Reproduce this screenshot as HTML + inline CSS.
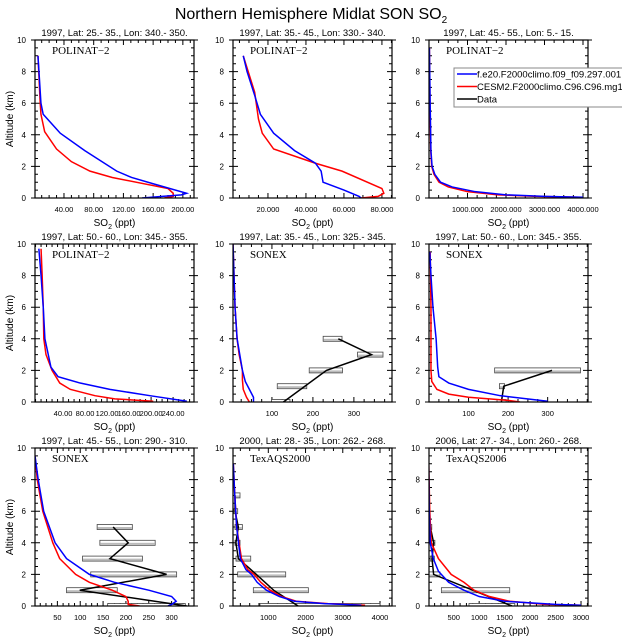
<!DOCTYPE html>
<html><head><meta charset="utf-8"><style>
body{margin:0;background:#fff;}
svg{display:block;font-family:"Liberation Sans",sans-serif;}
</style></head><body>
<svg id="fig" width="622" height="640" viewBox="0 0 622 640" xmlns="http://www.w3.org/2000/svg">
<text x="311" y="19" font-size="16" text-anchor="middle">Northern Hemisphere Midlat SON SO<tspan font-size="10" dy="4">2</tspan></text>
</svg>
<script>
// ---- data (altitude km, SO2 ppt) ----
const p1Titles=["1997, Lat: 25.- 35., Lon: 340.- 350.","1997, Lat: 35.- 45., Lon: 330.- 340.","1997, Lat: 45.- 55., Lon: 5.- 15.","1997, Lat: 50.- 60., Lon: 345.- 355.","1997, Lat: 35.- 45., Lon: 325.- 345.","1997, Lat: 50.- 60., Lon: 345.- 355.","1997, Lat: 45.- 55., Lon: 290.- 310.","2000, Lat: 28.- 35., Lon: 262.- 268.","2006, Lat: 27.- 34., Lon: 260.- 268."];
const campaigns=["POLINAT\u22122","POLINAT\u22122","POLINAT\u22122","POLINAT\u22122","SONEX","SONEX","SONEX","TexAQS2000","TexAQS2006"];
const xRanges=[[1,215],[1.6,85.3],[0,4130],[-11,278],[5,393],[0,402],[1,349],[52,4322],[15,3137]];
const xTicks=[[40,80,120,160,200],[20,40,60,80],[1000,2000,3000,4000],[40,80,120,160,200,240],[100,200,300],[100,200,300],[50,100,150,200,250,300],[1000,2000,3000,4000],[500,1000,1500,2000,2500,3000]];
const xTickLabels=[["40.00","80.00","120.00","160.00","200.00"],["20.000","40.000","60.000","80.000"],["1000.000","2000.000","3000.000","4000.000"],["40.00","80.00","120.00","160.00","200.00","240.00"],["100","200","300"],["100","200","300"],["50","100","150","200","250","300"],["1000","2000","3000","4000"],["500","1000","1500","2000","2500","3000"]];
const yTicks=[0,2,4,6,8,10];
// panel 1
const p1BlueAlt=[9,6,5.3,4.1,3,1.7,1.3,0.9,0.3,0.2,0];
const p1BlueX=[5,9,12,35,68,111,131,160,205,198,145];
const p1RedAlt=[9,6,5.3,4.2,3.1,2.3,1.7,1.3,0.6,0.3,0.1,0];
const p1RedX=[5,8,9,14,30,50,75,105,180,187,187,175];
// panel 2
const p2BlueAlt=[9,8,6.5,5.3,4.1,3,2.2,1.7,1.0,0.5,0.1,0];
const p2BlueX=[7,9,13,16,23,34,45,48,49,60,68,69];
const p2RedAlt=[9,6.7,5,4.1,3.1,2.2,1.7,0.6,0.3,0.1,0];
const p2RedX=[7,13,15,17,23,45,59,80,81,78,69];
// panel 3
const p3BlueAlt=[9.5,6,3,2,1.5,1,0.7,0.4,0.2,0.1,0.05];
const p3BlueX=[10,30,50,80,150,300,600,1200,2000,3000,4000];
const p3RedAlt=[9.5,6,3,2,1.5,1,0.7,0.4,0.2,0.1,0.05];
const p3RedX=[10,25,45,70,130,260,500,1000,1800,2800,3900];
// panel 4
const p4BlueAlt=[9.7,8,6,4,2.2,1.6,1.2,0.8,0.4,0.05];
const p4BlueX=[-4,0,4,7,18,31,71,125,198,265];
const p4RedAlt=[9.7,8,6,4,3,2,1.2,0.8,0.4,0.2,0.05];
const p4RedX=[0,2,4,5,9,20,34,53,98,134,204];
// panel 5
const p5BlueAlt=[10,6,4,2,1.3,0.8,0.3,0];
const p5BlueX=[5,10,15,28,35,45,55,55];
const p5RedAlt=[10,6,4,3,2,1.4,0.8,0.3,0];
const p5RedX=[5,10,15,20,28,28,30,38,45];
const p5ObsAlt=[4,3,2,1,0];
const p5ObsMean=[262,343,233,null,128];
const p5ObsMin=[225,309,191,113,99];
const p5ObsMax=[271,371,272,185,144];
// panel 6
const p6BlueAlt=[9.5,8,6,4,2.2,1.6,1.2,0.8,0.4,0.05];
const p6BlueX=[2,5,10,18,22,25,50,100,180,300];
const p6RedAlt=[9.5,6,4,2,1.3,0.8,0.5,0.3,0.1,0];
const p6RedX=[3,5,5,5,7,20,50,100,200,230];
const p6ObsAlt=[2,1,0];
const p6ObsMean=[311,189,183];
const p6ObsMin=[166,178,172];
const p6ObsMax=[383,191,195];
// panel 7
const p7BlueAlt=[9.5,8,6,4,3,2,1.5,1,0.6,0.3,0.1,0];
const p7BlueX=[1,8,20,45,70,120,175,250,300,310,300,292];
const p7RedAlt=[9.5,8,6,4,3,2,1.5,1,0.6,0.3,0.1,0];
const p7RedX=[1,6,18,40,55,90,120,170,200,205,205,230];
const p7ObsAlt=[5,4,3,2,1,0];
const p7ObsMean=[172,205,165,289,99,333];
const p7ObsMin=[137,143,105,123,70,160];
const p7ObsMax=[214,264,236,311,181,330];
// panel 8
const p8BlueAlt=[9,7,5,3,2.3,2,1.5,1,0.6,0.3,0.15,0.1,0.05];
const p8BlueX=[60,100,150,250,400,550,700,950,1300,1700,2500,3000,3500];
const p8RedAlt=[9,7,5,3,2.3,2,1.5,1,0.6,0.3,0.15,0.1,0.05];
const p8RedX=[60,100,150,280,450,620,800,1050,1350,1750,2600,3100,3600];
const p8ObsAlt=[7,6,5,4,3,2,1,0];
const p8ObsMean=[106,106,195,130,195,678,1143,1800];
const p8ObsMin=[106,70,106,106,133,178,598,776];
const p8ObsMax=[240,178,303,240,528,1467,2075,4000];
// panel 9
const p9BlueAlt=[9,6,4,3,2.2,1.5,1,0.6,0.3,0.1,0.05];
const p9BlueX=[10,20,40,100,200,400,700,1000,1500,2500,3000];
const p9RedAlt=[9,6,4,3,2,1.5,1,0.6,0.3,0.1,0.05];
const p9RedX=[10,30,60,200,450,700,900,1200,1600,2300,3000];
const p9ObsAlt=[5,4,3,2,1,0];
const p9ObsMean=[41,106,74,106,null,1645];
const p9ObsMin=[30,40,40,15,258,800];
const p9ObsMax=[60,130,120,230,1600,1700];

const blueSeries=[[p1BlueAlt,p1BlueX],[p2BlueAlt,p2BlueX],[p3BlueAlt,p3BlueX],[p4BlueAlt,p4BlueX],[p5BlueAlt,p5BlueX],[p6BlueAlt,p6BlueX],[p7BlueAlt,p7BlueX],[p8BlueAlt,p8BlueX],[p9BlueAlt,p9BlueX]];
const redSeries=[[p1RedAlt,p1RedX],[p2RedAlt,p2RedX],[p3RedAlt,p3RedX],[p4RedAlt,p4RedX],[p5RedAlt,p5RedX],[p6RedAlt,p6RedX],[p7RedAlt,p7RedX],[p8RedAlt,p8RedX],[p9RedAlt,p9RedX]];
const obsSeries=[null,null,null,null,[p5ObsAlt,p5ObsMean,p5ObsMin,p5ObsMax],[p6ObsAlt,p6ObsMean,p6ObsMin,p6ObsMax],[p7ObsAlt,p7ObsMean,p7ObsMin,p7ObsMax],[p8ObsAlt,p8ObsMean,p8ObsMin,p8ObsMax],[p9ObsAlt,p9ObsMean,p9ObsMin,p9ObsMax]];

const NS="http://www.w3.org/2000/svg";
const svg=document.getElementById('fig');
const lefts=[35,233,429], tops=[40,244,448], W=159, H=158;
function mk(tag,attrs,parent){const e=document.createElementNS(NS,tag);for(const k in attrs)e.setAttribute(k,attrs[k]);(parent||svg).appendChild(e);return e;}

for(let i=0;i<9;i++){
  const L=lefts[i%3], T=tops[Math.floor(i/3)];
  const [x0,x1]=xRanges[i];
  const sx=v=>L+(v-x0)/(x1-x0)*W;
  const sy=a=>T+H-a/10*H;
  const g=mk('g',{});
  
  
  const clip=mk('clipPath',{id:'c'+i},g);
  mk('rect',{x:L,y:T,width:W,height:H},clip);
  const maj=xTicks[i], step=maj.length>1?maj[1]-maj[0]:1000, mstep=step/4;
  let tk='';
  for(let v=Math.ceil(x0/mstep)*mstep; v<=x1; v+=mstep){const x=sx(v);const isM=maj.some(m=>Math.abs(m-v)<1e-6);const l=isM?5:3;tk+=`M${x},${T+H}v${-l}M${x},${T}v${l}`;}
  for(let a=0;a<=10;a+=0.5){const y=sy(a);const l=(a%2===0)?5:3;tk+=`M${L},${y}h${l}M${L+W},${y}h${-l}`;if(a%2===0)tk+=`M${L},${y}h-4M${L+W},${y}h4`;}
  mk('path',{d:tk,stroke:'#000','stroke-width':1,fill:'none'},g);
  maj.forEach((v,j)=>{const t=mk('text',{x:sx(v),y:T+H+14,'font-size':7.5,'text-anchor':'middle'},g);t.textContent=xTickLabels[i][j];
    
    });
  yTicks.forEach(a=>{const t=mk('text',{x:L-9,y:sy(a)+3,'font-size':8,'text-anchor':'end'},g);t.textContent=a;
    
    });
  const tt=mk('text',{x:L+W/2,y:T-4,'font-size':9.5,'text-anchor':'middle'},g);tt.textContent=p1Titles[i];
  
  
  const ct=mk('text',{x:L+17,y:T+14,'font-size':11,'font-family':'Liberation Serif, serif'},g);ct.textContent=campaigns[i];
  
  
  const xl=mk('text',{x:L+W/2,y:T+H+28,'font-size':10,'text-anchor':'middle'},g);xl.innerHTML='SO<tspan font-size="7" dy="3">2</tspan><tspan dy="-3"> (ppt)</tspan>';
  
  
  if(i%3===0){const yl=mk('text',{x:0,y:0,'font-size':10,'text-anchor':'middle',transform:`translate(13,${T+H/2}) rotate(-90)`},g);yl.textContent='Altitude (km)';
    
    }
  const cg=mk('g',{'clip-path':`url(#c${i})`},g);
  const ob=obsSeries[i];
  if(ob){
    const [al,mn,lo,hi]=ob;
    al.forEach((a,j)=>{const y=sy(a);const xa=sx(lo[j]),xb=sx(hi[j]);
      const r=mk('rect',{x:xa,y:y-2.5,width:Math.max(xb-xa,2),height:5,fill:'#fff',stroke:'#444','stroke-width':0.8},cg);
      
      
      mk('rect',{x:xa+0.5,y:y,width:Math.max(xb-xa-1,1),height:2,fill:'#bbb'},cg);});
    const pts=al.map((a,j)=>mn[j]==null?null:`${sx(mn[j])},${sy(a)}`).filter(p=>p);
    const pl=mk('polyline',{points:pts.join(' '),fill:'none',stroke:'#000','stroke-width':1.5},cg);
    
    
  }
  [[redSeries[i],'#f00','red-model-line'],[blueSeries[i],'#00f','blue-model-line']].forEach(([s,c,n])=>{
    const pts=s[0].map((a,j)=>`${sx(s[1][j])},${sy(a)}`).join(' ');
    const pl=mk('polyline',{points:pts,fill:'none',stroke:c,'stroke-width':1.5},cg);
    
    
  });
  mk('rect',{x:L,y:T,width:W,height:H,fill:'none',stroke:'#000','stroke-width':1.2},g);
}
const lg=mk('g',{});


mk('rect',{x:454,y:68,width:172,height:39,fill:'#fff',stroke:'#888','stroke-width':1},lg);
[['#00f','f.e20.F2000climo.f09_f09.297.001'],['#f00','CESM2.F2000climo.C96.C96.mg1'],['#000','Data']].forEach(([c,t],k)=>{
  const y=74+k*12.5;
  mk('line',{x1:457,x2:477,y1:y,y2:y,stroke:c,'stroke-width':1.5},lg);
  const tx=mk('text',{x:477,y:y+3.5,'font-size':9.5},lg);tx.textContent=t;
  
  
});
</script>
</body></html>
